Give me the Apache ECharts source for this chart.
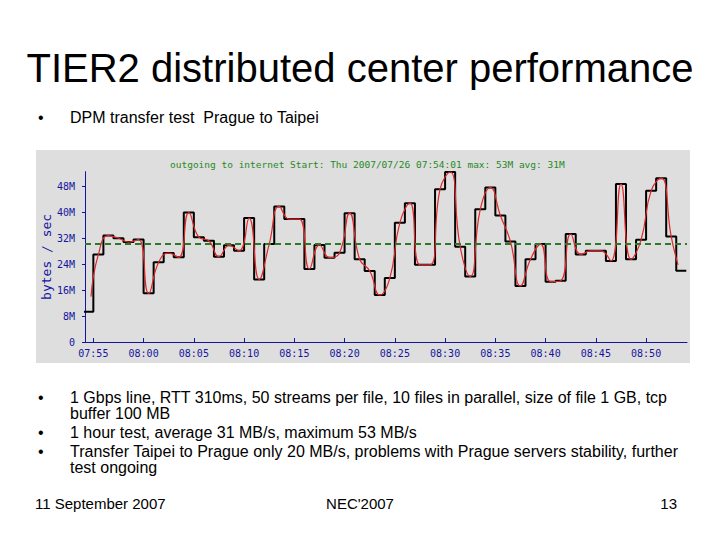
<!DOCTYPE html>
<html>
<head>
<meta charset="utf-8">
<script src="https://cdn.jsdelivr.net/npm/echarts@6/dist/echarts.min.js"></script>
<style>
  html, body { margin: 0; padding: 0; background: #ffffff; }
  #slide { position: relative; width: 720px; height: 540px; overflow: hidden; font-family: 'Liberation Sans', Arial, sans-serif; color: #000; }
  .t { position: absolute; white-space: pre; line-height: 1; }
  .b { font-size: 16px; line-height: 15px; }
  #chart { position: absolute; left: 36px; top: 150px; width: 654px; height: 213px; background: #dedede; }
</style>
</head>
<body>
<div id="slide">
  <div class="t" style="left:0;width:720px;text-align:center;top:48px;font-size:40px;">TIER2 distributed center performance</div>
  <div class="t" style="left:38px;top:110px;font-size:16px;">•</div>
  <div class="t" style="left:70px;top:110px;font-size:16px;">DPM transfer test  Prague to Taipei</div>

  <div id="chart"></div>

  <div class="t b" style="left:38px;top:390px;">•</div>
  <div class="t b" style="left:70px;top:390px;">1 Gbps line, RTT 310ms, 50 streams per file, 10 files in parallel, size of file 1 GB, tcp</div>
  <div class="t b" style="left:70px;top:406px;">buffer 100 MB</div>
  <div class="t b" style="left:38px;top:425px;">•</div>
  <div class="t b" style="left:70px;top:425px;">1 hour test, average 31 MB/s, maximum 53 MB/s</div>
  <div class="t b" style="left:38px;top:444px;">•</div>
  <div class="t b" style="left:70px;top:444px;">Transfer Taipei to Prague only 20 MB/s, problems with Prague servers stability, further</div>
  <div class="t b" style="left:70px;top:460px;">test ongoing</div>

  <div class="t" style="left:35px;top:496px;font-size:15px;">11 September 2007</div>
  <div class="t" style="left:260px;width:200px;text-align:center;top:496px;font-size:15px;">NEC'2007</div>
  <div class="t" style="left:577px;width:100px;text-align:right;top:496px;font-size:15px;">13</div>
</div>
<script>
// ---- data (MB/s per 1-minute interval, starting 07:54) ----
const startHour = 7;
const startMinute = 54;
const traffic = [9.3, 27.0, 32.8, 32.0, 30.8, 31.6, 15.0, 24.6, 27.4, 26.1,
                 39.9, 32.3, 31.2, 26.3, 29.8, 28.1, 38.2, 19.3, 30.2, 41.8,
                 37.9, 37.9, 22.5, 29.9, 26.0, 27.5, 39.7, 25.5, 21.9, 14.5,
                 19.7, 36.8, 42.8, 23.8, 23.8, 47.1, 52.4, 29.4, 20.2, 40.9,
                 47.6, 39.0, 31.0, 17.3, 25.5, 30.2, 18.6, 18.9, 33.3, 27.0,
                 28.1, 28.1, 25.0, 48.7, 25.5, 31.5, 46.6, 50.5, 32.5, 22.0];
const smoothLead = [0.77, 14.0];   // [minute, MB/s] where the smoothed trace begins
const smoothTail = [59.18, 23.8];  // [minute, MB/s] where the smoothed trace ends
const average = 30.3;
const yTicks = [0, 8, 16, 24, 32, 40, 48];
const xTicks = [1, 6, 11, 16, 21, 26, 31, 36, 41, 46, 51, 56];
const chartTitle = 'outgoing to internet Start: Thu 2007/07/26 07:54:01 max: 53M avg: 31M';
const yName = 'bytes / sec';

// ---- build series ----
const stepData = traffic.map((v, i) => [i, v]);
stepData.push([traffic.length, traffic[traffic.length - 1]]);
const smoothData = [smoothLead];
for (let i = 1; i < traffic.length - 1; i++) smoothData.push([i + 0.5, traffic[i]]);
smoothData.push(smoothTail);

function fmtTime(v) {
  const t = startHour * 60 + startMinute + Math.round(v);
  const h = Math.floor(t / 60), m = t % 60;
  return String(h).padStart(2, '0') + ':' + String(m).padStart(2, '0');
}

const blue = '#1414a0';
const mono = "'DejaVu Sans Mono', 'Liberation Mono', monospace";
const chart = echarts.init(document.getElementById('chart'), null, { renderer: 'svg' });
chart.setOption({
  animation: false,
  backgroundColor: '#dedede',
  title: {
    text: chartTitle, left: 129, top: 4,
    textStyle: { fontFamily: mono, fontSize: 9.5, fontWeight: 'normal', color: '#1f8a1f' }
  },
  grid: { left: 49, right: 3, top: 21.7, bottom: 21, containLabel: false, outerBoundsMode: 'none' },
  xAxis: {
    type: 'value', min: 0.17, max: 60.07,
    splitLine: { show: false },
    axisLine: { lineStyle: { color: blue, width: 1 } },
    axisTick: { inside: true, length: 4, customValues: xTicks, lineStyle: { color: blue } },
    axisLabel: { customValues: xTicks, formatter: fmtTime, color: blue, fontFamily: mono, fontSize: 10, margin: 6 }
  },
  yAxis: {
    type: 'value', min: 0, max: 52.5,
    name: yName, nameLocation: 'middle', nameRotate: 90, nameGap: 32, nameMoveOverlap: false,
    nameTextStyle: { color: blue, fontFamily: mono, fontSize: 13 },
    splitLine: { show: false },
    axisLine: { show: true, lineStyle: { color: blue, width: 1 } },
    axisTick: { show: true, length: 3, customValues: yTicks, lineStyle: { color: blue } },
    axisLabel: { customValues: yTicks, formatter: v => v === 0 ? '0' : v + 'M', color: blue, fontFamily: mono, fontSize: 10, margin: 10 }
  },
  series: [
    {
      type: 'line', data: stepData, step: 'end', showSymbol: false, symbol: 'none',
      lineStyle: { color: '#000000', width: 2 }, z: 2,
      markLine: {
        silent: true, symbol: ['none', 'none'], label: { show: false },
        lineStyle: { type: [6, 4], color: '#2a7a2a', width: 2 },
        data: [{ yAxis: average }]
      }
    },
    {
      type: 'line', data: smoothData, smooth: 0.5, showSymbol: false, symbol: 'none',
      lineStyle: { color: '#e02828', width: 1.2 }, z: 3
    }
  ]
});
</script>
</body>
</html>
